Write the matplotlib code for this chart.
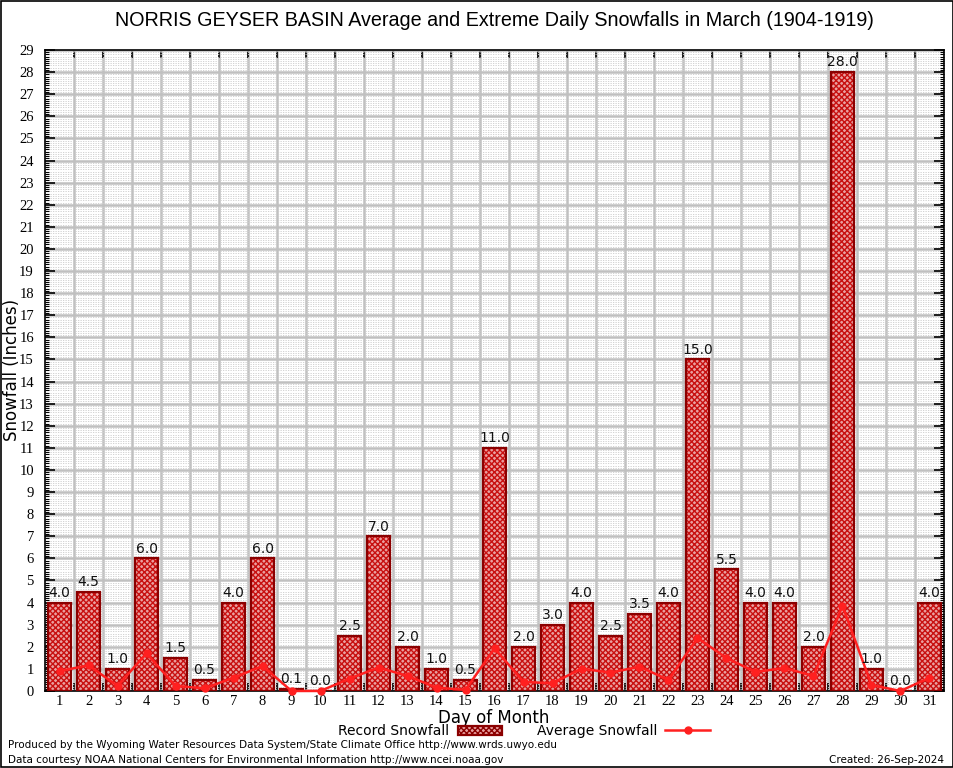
import numpy as np
import matplotlib
matplotlib.use("Agg")
import matplotlib.pyplot as plt
import matplotlib.patches as mpatches
import matplotlib.lines as mlines
from matplotlib.ticker import MultipleLocator, FixedLocator

# donnees
jours = list(range(1, 32))
record = [4.0, 4.5, 1.0, 6.0, 1.5, 0.5, 4.0, 6.0, 0.1, 0.0,
          2.5, 7.0, 2.0, 1.0, 0.5, 11.0, 2.0, 3.0, 4.0, 2.5,
          3.5, 4.0, 15.0, 5.5, 4.0, 4.0, 2.0, 28.0, 1.0, 0.0, 4.0]
moyenne = [0.9, 1.16, 0.23, 1.7, 0.23, 0.12, 0.6, 1.13, 0.0, 0.0,
           0.56, 1.06, 0.68, 0.15, 0.05, 1.93, 0.41, 0.35, 1.01, 0.83,
           1.1, 0.5, 2.4, 1.49, 0.86, 1.04, 0.68, 3.85, 0.27, 0.0, 0.6]

titre = "NORRIS GEYSER BASIN Average and Extreme Daily Snowfalls in March (1904-1919)"

rouge_fonce = "#8b0000"
rouge = "#ff2020"
fond_barre = "#eaa0a0"

plt.rcParams["hatch.color"] = "#c81010"
plt.rcParams["hatch.linewidth"] = 1.0

fig = plt.figure(figsize=(9.54, 7.68), dpi=100)
ax = fig.add_axes([0.0472, 0.1003, 0.9423, 0.8346])

# barres
ax.bar(jours, record, width=0.82, color=fond_barre, hatch="xxxxxx",
       edgecolor="#c81010", linewidth=0, zorder=3)
ax.bar(jours, record, width=0.82, fill=False, edgecolor=rouge_fonce,
       linewidth=1.6, zorder=4)

for j, v in zip(jours, record):
    ax.text(j, v + 0.12, "%.1f" % v, ha="center", va="bottom",
            fontsize=10, family="DejaVu Sans", color="#111111", zorder=6)

# moyenne
ax.plot(jours, moyenne, color=rouge, linewidth=1.8, marker="o",
        markersize=5, zorder=5, clip_on=False)

ax.set_xlim(0.5, 31.5)
ax.set_ylim(0, 29)

ax.xaxis.set_major_locator(FixedLocator(np.arange(1.5, 31, 1)))
ax.xaxis.set_minor_locator(FixedLocator(jours))
ax.set_xticklabels([])
ax.set_xticklabels([str(j) for j in jours], minor=True,
                   family="Liberation Serif", fontsize=10.5)
ax.tick_params(axis="x", which="minor", length=0, pad=3)
ax.tick_params(axis="x", which="major", direction="in", length=6,
               top=True, width=1.2)

ax.yaxis.set_major_locator(MultipleLocator(1))
ax.yaxis.set_minor_locator(MultipleLocator(0.1))
ax.tick_params(axis="y", which="major", direction="in", length=7,
               right=True, width=1.2, labelsize=10.5, pad=8)
ax.tick_params(axis="y", which="minor", direction="in", length=3,
               right=True, width=0.8)
for lab in ax.get_yticklabels():
    lab.set_family("Liberation Serif")

# grilles
ax.grid(axis="both", which="major", color="#c0c0c0", linewidth=1.8, zorder=0)
ax.grid(axis="y", which="minor", color="#cccccc", linewidth=0.6,
        linestyle=(0, (1.5, 1.5)), zorder=0)
ax.set_axisbelow(True)

for s in ax.spines.values():
    s.set_linewidth(1.2)

fig.text(12 / 954, 1 - 370 / 768, "Snowfall (Inches)", fontsize=12,
         family="DejaVu Sans", rotation=90, ha="center", va="center")
fig.text(494 / 954, 1 - 718 / 768, "Day of Month", fontsize=12,
         family="DejaVu Sans", ha="center", va="center")

fig.text(494 / 954, 1 - 20 / 768, titre, ha="center", va="center", fontsize=14.2,
         family="Liberation Sans")

# legende
p = mpatches.Patch(facecolor=fond_barre, hatch="xxxxxx", edgecolor=rouge_fonce,
                   linewidth=1.6, label="Record Snowfall")
l = mlines.Line2D([], [], color=rouge, linewidth=1.8, marker="o",
                  markersize=5, label="Average Snowfall")
fig.legend(handles=[p, l], loc="center", bbox_to_anchor=(524 / 954, 1 - 731 / 768),
           ncol=2, frameon=False, markerfirst=False, fontsize=10,
           handlelength=3.2, handleheight=0.6, columnspacing=2.5,
           borderpad=0, handletextpad=0.6)

fig.text(0.008, 1 - 745 / 768, "Produced by the Wyoming Water Resources Data System/State Climate Office http://www.wrds.uwyo.edu",
         fontsize=7.5, family="DejaVu Sans", va="center")
fig.text(0.008, 1 - 760 / 768, "Data courtesy NOAA National Centers for Environmental Information http://www.ncei.noaa.gov",
         fontsize=7.5, family="DejaVu Sans", va="center")
fig.text(0.99, 1 - 760 / 768, "Created: 26-Sep-2024", fontsize=7.5, family="DejaVu Sans",
         va="center", ha="right")

# cadre
fig.add_artist(mpatches.Rectangle((0.001, 0.001), 0.998, 0.998,
                                  transform=fig.transFigure, fill=False,
                                  edgecolor="black", linewidth=1.2))

fig.savefig("out.png", dpi=100)
